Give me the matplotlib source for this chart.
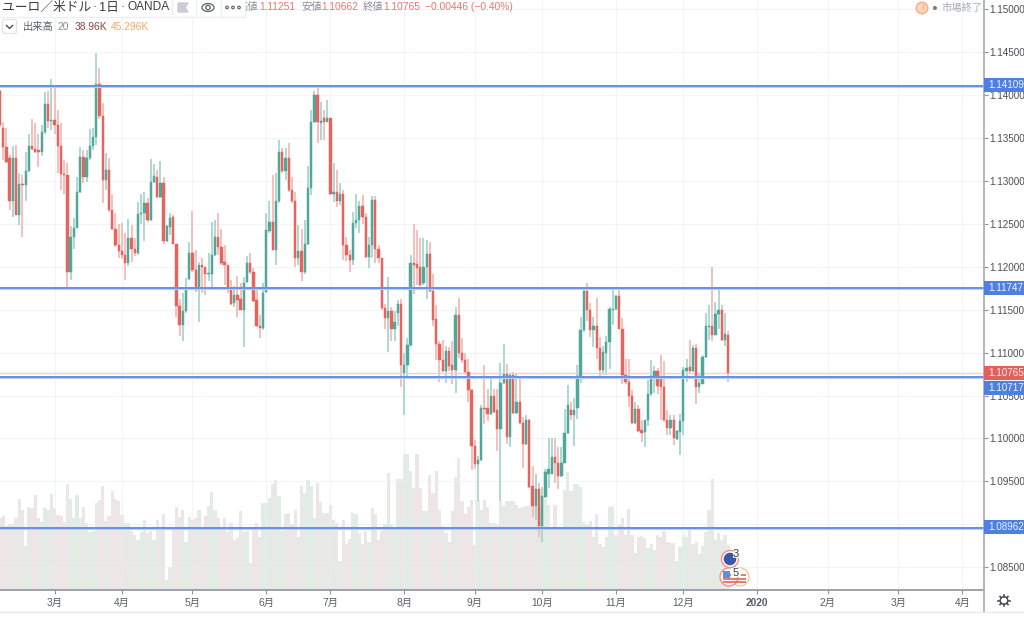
import numpy as np
import matplotlib
matplotlib.use("Agg")
import matplotlib.pyplot as plt
from matplotlib.patches import Rectangle, Circle, Ellipse, FancyBboxPatch

plt.rcParams['font.family'] = ['Liberation Sans', 'Noto Sans CJK JP', 'DejaVu Sans']

# Prices in pips (1 pip = 0.0001 EUR/USD)
OPENS = [11404,11362,11339,11326,11276,11326,11260,11296,11295,11311,
11341,11337,11336,11334,11357,11389,11370,11371,11365,11341,
11308,11307,11194,11235,11245,11287,11328,11304,11326,11340,
11351,11413,11375,11301,11313,11266,11244,11225,11218,11214,
11204,11233,11221,11216,11261,11263,11274,11254,11299,11305,
11281,11297,11230,11246,11258,11227,11154,11132,11148,11186,
11216,11196,11173,11202,11200,11192,11192,11214,11234,11223,
11205,11202,11175,11158,11167,11162,11150,11182,11204,11194,
11161,11131,11129,11171,11242,11252,11220,11276,11334,11311,
11326,11289,11277,11210,11218,11194,11226,11292,11369,11400,
11367,11373,11369,11373,11285,11287,11277,11285,11225,11214,
11208,11251,11254,11271,11258,11211,11225,11278,11221,11210,
11152,11140,11148,11128,11146,11157,11076,11085,11109,11204,
11203,11200,11181,11200,11215,11172,11139,11110,11091,11078,
11102,11086,11080,11144,11100,11091,11077,11057,10991,10970,
10975,11035,11035,11029,11049,11033,11011,11065,11075,11002,
11074,11030,11042,11018,10994,11022,10945,10921,10941,10898,
10932,10959,10959,10979,10972,10956,10972,11006,11033,11027,
11035,11072,11126,11172,11150,11126,11131,11105,11080,11100,
11112,11150,11151,11166,11128,11074,11066,11049,11018,11034,
11010,11007,11021,11052,11073,11078,11072,11060,11022,11012,
11022,10999,11008,11020,11078,11083,11078,11105,11060,11064,
11095,11130,11131,11121,11145,11150,11115,11121]

HIGHS = [11406,11369,11361,11330,11341,11342,11309,11307,11334,11355,
11372,11367,11355,11365,11403,11404,11419,11409,11382,11367,
11324,11321,11247,11257,11305,11339,11336,11336,11360,11361,
11449,11431,11391,11332,11326,11285,11262,11250,11251,11239,
11256,11249,11233,11275,11285,11287,11280,11325,11320,11313,
11323,11304,11249,11262,11260,11227,11162,11169,11187,11229,
11265,11219,11206,11210,11200,11216,11252,11254,11263,11244,
11225,11202,11185,11177,11189,11181,11188,11212,11216,11198,
11175,11144,11181,11262,11277,11307,11309,11348,11338,11338,
11344,11304,11287,11249,11244,11254,11317,11382,11405,11412,
11392,11382,11394,11373,11321,11313,11297,11289,11235,11220,
11264,11285,11276,11283,11263,11235,11282,11282,11225,11210,
11157,11188,11153,11149,11161,11162,11099,11117,11214,11250,
11243,11233,11233,11231,11229,11192,11155,11113,11115,11108,
11107,11114,11153,11164,11117,11099,11093,11058,10998,10980,
11039,11086,11058,11069,11058,11058,11088,11110,11087,11075,
11077,11075,11069,11025,11027,11023,10968,10959,10948,10944,
10964,11000,11000,11001,10990,10990,11034,11062,11043,11047,
11086,11141,11173,11181,11158,11141,11164,11118,11108,11119,
11153,11175,11167,11175,11140,11093,11093,11056,11043,11039,
11022,11022,11068,11091,11084,11082,11097,11090,11033,11027,
11027,11010,11028,11083,11093,11115,11109,11110,11076,11097,
11146,11155,11200,11159,11175,11155,11146,11125]

LOWS = [11363,11324,11321,11266,11258,11260,11249,11235,11276,11310,
11336,11332,11316,11329,11355,11361,11359,11355,11309,11289,
11285,11176,11185,11221,11245,11286,11297,11299,11324,11336,
11342,11372,11274,11289,11264,11243,11223,11210,11209,11184,
11201,11206,11212,11214,11250,11230,11252,11253,11297,11280,
11280,11227,11229,11237,11226,11142,11119,11113,11146,11185,
11194,11171,11136,11169,11167,11183,11173,11213,11214,11202,
11179,11169,11155,11153,11142,11150,11107,11181,11192,11159,
11130,11117,11126,11169,11239,11219,11202,11274,11309,11301,
11287,11274,11200,11202,11183,11192,11225,11283,11367,11344,
11347,11348,11368,11283,11275,11269,11272,11208,11207,11194,
11202,11245,11239,11250,11210,11199,11210,11204,11204,11150,
11127,11101,11113,11113,11131,11060,11027,11070,11107,11168,
11179,11178,11179,11162,11171,11131,11091,11066,11077,11065,
11078,11063,11053,11094,11088,11075,11043,10963,10965,10927,
10974,11017,11020,11027,11030,10986,10927,11064,10994,10990,
11029,11029,11017,10966,10992,10942,10909,10905,10885,10880,
10931,10942,10959,10948,10941,10955,10971,11005,11022,10991,
11023,11065,11124,11137,11118,11106,11093,11073,11074,11074,
11081,11132,11150,11127,11064,11063,11037,11017,11017,11008,
10996,10990,11015,11050,11053,11052,11021,11019,11004,11004,
10992,10998,10981,11004,11066,11076,11077,11040,11053,11063,
11094,11115,11113,11120,11128,11113,11108,11066]

CLOSES = [11365,11339,11322,11276,11326,11260,11296,11295,11311,11341,
11337,11334,11334,11357,11389,11370,11371,11365,11340,11308,
11307,11194,11235,11245,11287,11328,11304,11326,11340,11351,
11413,11375,11301,11313,11266,11244,11225,11218,11214,11204,
11233,11221,11216,11261,11263,11274,11254,11299,11306,11281,
11297,11230,11247,11257,11227,11154,11132,11148,11175,11216,
11196,11173,11202,11200,11192,11193,11214,11234,11223,11204,
11202,11175,11157,11167,11161,11150,11181,11204,11194,11160,
11131,11129,11169,11243,11252,11220,11276,11334,11311,11326,
11289,11276,11210,11218,11194,11226,11292,11369,11400,11368,
11370,11369,11373,11285,11287,11277,11285,11225,11214,11208,
11251,11254,11271,11258,11211,11225,11278,11221,11210,11152,
11140,11148,11128,11136,11157,11086,11086,11109,11204,11202,
11199,11179,11200,11215,11172,11138,11110,11091,11078,11102,
11084,11080,11144,11100,11091,11077,11057,10991,10970,10975,
11035,11034,11029,11049,11031,11011,11065,11075,11002,11074,
11030,11042,11018,10994,11022,10944,10921,10941,10898,10933,
10961,10964,10979,10972,10956,10972,11006,11039,11027,11033,
11073,11126,11172,11150,11126,11131,11105,11080,11101,11112,
11151,11151,11166,11128,11074,11066,11049,11018,11034,11009,
11006,11022,11052,11073,11078,11061,11060,11021,11012,11022,
11000,11009,11020,11080,11082,11078,11105,11060,11065,11095,
11131,11131,11121,11145,11150,11115,11122,11076.5]

# Daily volume in thousands
VOLUMES = [62,64,55,57,57,62,79,69,38,72,
71,82,62,59,71,69,83,71,65,64,
59,92,79,62,82,62,72,58,50,51,
75,78,90,60,64,86,79,77,65,58,
58,51,48,43,50,61,49,51,43,61,
53,66,9,20,53,72,63,69,42,63,
61,62,69,52,64,73,85,69,62,53,
62,50,58,43,45,68,50,51,23,54,
58,46,75,75,80,92,95,81,51,66,
67,57,69,46,90,84,95,90,62,93,
76,67,67,74,61,58,25,61,40,44,
67,66,49,40,51,42,71,66,43,51,
57,101,57,53,96,96,118,118,103,88,
118,88,68,68,100,84,103,69,55,49,
42,68,98,114,77,66,72,78,39,78,
69,78,72,58,58,56,77,73,77,77,
77,74,71,72,73,73,74,73,72,81,
79,74,54,74,53,53,87,102,86,92,
92,89,59,56,60,46,66,40,37,46,
72,73,48,56,62,48,70,48,32,46,
47,45,36,40,35,48,46,51,42,41,
41,25,37,48,46,54,40,42,31,38,
50,69,96,43,49,43,48,38.96]

PRICE_TICKS = [1.085,1.09,1.095,1.10,1.105,1.11,1.115,1.12,1.125,1.13,1.135,1.14,1.145,1.15]
MONTH_POS = [17,38,60,83,103,126,148,169,192,213,236,258,280,300]
MONTH_LABELS = ['3月','4月','5月','6月','7月','8月','9月','10月','11月','12月','2020','2月','3月','4月']
LEVELS = [1.14109, 1.11747, 1.10717, 1.08962]
LEVEL_LABEL_ROWS = [85, 288, 388, 527]
LAST_PRICE = 1.10765

UP = '#52a79b'; DOWN = '#e5645d'
UP_W = '#9dd0c7'; DOWN_W = '#f3b2ae'
UP_V = '#e2ece4'; DOWN_V = '#eee6e6'
BLUE = '#4f80e1'
AXIS = '#8f939d'
TICK_SIZE = 7.1

o = np.array(OPENS)/1e4; h = np.array(HIGHS)/1e4; l = np.array(LOWS)/1e4; c = np.array(CLOSES)/1e4
idx = np.arange(len(o))
up = c >= o

fig = plt.figure(figsize=(10.24, 6.2), dpi=100, facecolor='white')
ax = fig.add_axes([0, 30/620, 984/1024, 590/620])
vol = ax.twinx()
vol.set_zorder(1); ax.set_zorder(2); ax.patch.set_visible(False)

vol.bar(idx, VOLUMES, width=1.0, color=[UP_V if u else DOWN_V for u in up], linewidth=0)
vol.set_ylim(0, 511)
vol.set_yticks([]); vol.patch.set_facecolor('white')
for s in vol.spines.values():
    s.set_visible(False)

ax.set_axisbelow(True)
ax.grid(True, color='#e8eef6', alpha=0.6, lw=0.8)
ax.vlines(idx, l, h, colors=[UP_W if u else DOWN_W for u in up], lw=1.15, zorder=2)
ax.bar(idx, np.abs(c-o), bottom=np.minimum(o, c), width=0.72,
       color=[UP if u else DOWN for u in up], edgecolor=[UP if u else DOWN for u in up],
       linewidth=0.35, zorder=3)

ax.axhline(LAST_PRICE, color='#f6cdca', lw=1.0, zorder=2.5)
for lv in LEVELS:
    ax.axhline(lv, color='#bcd0f5', lw=2.2, zorder=4)
    ax.axhline(lv, color=BLUE, lw=1.1, zorder=4.1)

ax.set_xlim(0, 984/3.208)
ax.set_ylim(1.15-581/8590, 1.15+9/8590)
ax.set_yticks(PRICE_TICKS)
ax.set_yticklabels([f'{t:.5f}' for t in PRICE_TICKS])
ax.yaxis.tick_right()
ax.set_xticks(MONTH_POS)
ax.set_xticklabels(MONTH_LABELS)
ax.tick_params(axis='y', length=3, width=0.8, color=AXIS, labelcolor='#4a4d55', labelsize=TICK_SIZE, pad=0.6)
ax.tick_params(axis='x', length=3, width=0.8, color=AXIS, labelcolor='#5a5d66', labelsize=7.4, pad=3)
for lab in ax.get_xticklabels():
    if lab.get_text() == '2020':
        lab.set_fontweight('bold')
for name in ('top', 'left'):
    ax.spines[name].set_visible(False)
ax.spines['right'].set_visible(False)
ax.spines['bottom'].set_color(AXIS); ax.spines['bottom'].set_linewidth(1.2)

# Interface chrome drawn in pixel space
ui = fig.add_axes([0, 0, 1, 1], zorder=10)
ui.set_xlim(0, 1024); ui.set_ylim(620, 0); ui.axis('off')

ui.plot([984, 984], [0, 612], color='#a6a9b1', lw=1.2, solid_capstyle='butt')
ui.plot([0, 1024], [612, 612], color='#e8e8e8', lw=1.0)

for lv, row in zip(LEVELS, LEVEL_LABEL_ROWS):
    ui.add_patch(Rectangle((984, row-7), 40, 14, fc=BLUE, ec='none', zorder=5))
    ui.text(988.4, row, f'{lv:.5f}', color='#eef3fd', fontsize=TICK_SIZE, va='center', ha='left', zorder=6)
ui.add_patch(Rectangle((984, 365.5), 40, 14, fc='#e3615b', ec='none', zorder=5))
ui.text(988.4, 372.5, f'{LAST_PRICE:.5f}', color='#fdeeee', fontsize=TICK_SIZE, va='center', ha='left', zorder=6)

def label(x, y, s, color, size=7.4, **kw):
    ui.text(x, y, s, color=color, fontsize=size, va='center', ha='left', zorder=8, **kw)

GREY = '#8b8e96'; RED_T = '#ea7672'
label(237, 7, '高値', GREY); label(259, 7, '1.11251', RED_T)
label(301, 7, '安値', GREY); label(321, 7, '1.10662', RED_T)
label(363, 7, '終値', GREY); label(383, 7, '1.10765', RED_T)
label(425, 7, '−0.00446 (−0.40%)', RED_T)

ui.add_patch(Rectangle((0, 0), 245, 16.5, fc='white', ec='none', zorder=8.5))
ui.plot([172, 172, 245, 245], [0, 16.5, 16.5, 0], color='#eceef2', lw=0.9, zorder=9)
for bx in (195.5, 220.5):
    ui.plot([bx, bx], [0, 16.5], color='#eceef2', lw=0.9, zorder=9)
ui.plot([0, 172], [16.5, 16.5], color='#eceef2', lw=0.9, zorder=9)

def head(x, s, size=9.2):
    ui.text(x, 7.5, s, color='#3a3d45', fontsize=size, va='center', ha='left', zorder=10)
head(2, 'ユーロ／米ドル'); head(93, '·'); head(99, '1日'); head(121, '·'); head(128, 'OANDA', size=8.6)

ui.fill([178, 188, 185, 188, 178], [3, 3, 7.5, 12, 12], color='#c9ccd4', zorder=10)
ui.add_patch(Ellipse((208, 7.5), 12, 8, fc='none', ec='#5c5f67', lw=0.9, zorder=10))
ui.add_patch(Circle((208, 7.5), 2.2, fc='none', ec='#5c5f67', lw=0.9, zorder=10))
for dx in (227, 233, 239):
    ui.add_patch(Circle((dx, 7.5), 1.3, fc='none', ec='#5c5f67', lw=0.8, zorder=10))

ui.add_patch(FancyBboxPatch((2.5, 19.5), 14, 14, boxstyle='round,pad=0,rounding_size=2',
                            fc='white', ec='#e2e4ea', lw=0.9, zorder=9))
ui.plot([6.5, 9.5, 12.5], [25.5, 28.5, 25.5], color='#4a4d55', lw=1.0, zorder=10)
label(23, 27, '出来高', '#5c5f67'); label(57, 27, '20', '#85888f')
label(75, 27, '38.96K', '#8f4040'); label(111, 27, '45.296K', '#f5a965')

ui.add_patch(Circle((922, 8), 5.8, fc='#fbd6bf', ec='#f4a87c', lw=0.9, zorder=8))
ui.text(922, 8, '!', color='#f0a070', fontsize=6.5, ha='center', va='center', zorder=9)
ui.add_patch(Circle((935, 8), 2, fc='#787b83', ec='none', zorder=8))
label(941, 8, '市場終了', '#a9acb3')

# Event markers
ui.add_patch(Circle((740, 577), 9, fc='white', ec='#f6c48f', lw=0.9, zorder=6))
ui.add_patch(Circle((730, 559), 8.5, fc='white', ec='#ee8f8b', lw=1.0, zorder=7))
ui.add_patch(Circle((730, 559), 6.3, fc='#3d57a6', ec='none', zorder=7.1))
ui.add_patch(Circle((729, 577), 9, fc='white', ec='#ee8f8b', lw=1.0, zorder=7))
ui.add_patch(Rectangle((723, 571), 13, 11, fc='#f4f4f4', ec='none', zorder=7.1))
for sy in (575, 578.5, 581.5):
    ui.plot([723, 746], [sy, sy], color='#e4635e', lw=1.2, zorder=7.2, solid_capstyle='butt')
ui.add_patch(Rectangle((723, 571), 6.5, 6.5, fc='#5f8fdc', ec='none', zorder=7.3))
ui.add_patch(Rectangle((733, 549), 7, 9, fc='white', alpha=0.8, ec='none', zorder=7.5))
ui.text(736, 554, '3', color='#3f4249', fontsize=8, ha='center', va='center', zorder=8)
ui.add_patch(Rectangle((731, 568), 10, 9, fc='white', ec='none', zorder=7.5))
ui.text(736, 573, '5', color='#3f4249', fontsize=8, ha='center', va='center', zorder=8)

# Settings gear
ui.add_patch(Circle((1004, 600.5), 3.8, fc='none', ec='#4a4d55', lw=1.0, zorder=8))
for ang in np.deg2rad(np.arange(0, 360, 45)):
    ui.plot([1004+3.8*np.cos(ang), 1004+5.6*np.cos(ang)],
            [600.5+3.8*np.sin(ang), 600.5+5.6*np.sin(ang)], color='#4a4d55', lw=1.2, zorder=8)

fig.savefig('out.png', dpi=100)
